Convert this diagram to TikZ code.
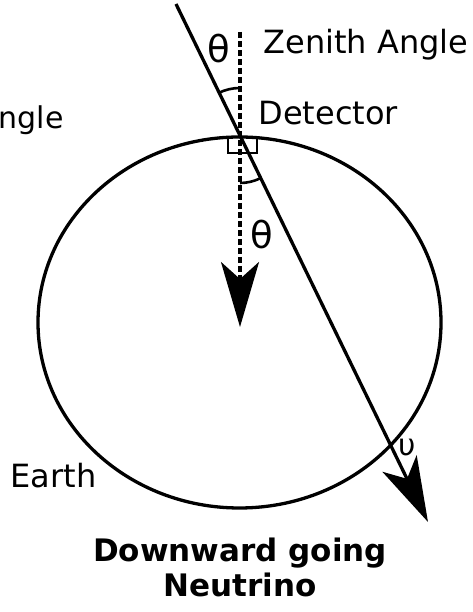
\documentclass[tikz,border=0pt]{standalone}
\usepackage{fontspec}
\setmainfont{DejaVu Sans}
\usetikzlibrary{arrows.meta,shapes.geometric}
\begin{document}
\begin{tikzpicture}[x=1pt,y=1pt,line width=3.3pt,
  lbl/.style={font=\fontsize{32}{38}\selectfont,inner sep=0pt},
  greek/.style={font=\fontsize{37}{40}\selectfont,inner sep=0pt},
  boldlbl/.style={font=\fontsize{31}{36}\selectfont\bfseries,inner sep=0pt},
  bigtip/.style={-{Stealth[length=65pt,width=38pt,inset=17pt]}},
  anglearc/.style={line width=2.6pt}]
\useasboundingbox (0,0) rectangle (472,612);
% Earth
\node[draw,ellipse,minimum width=403pt,minimum height=371pt,inner sep=0pt] (earthshape) at (239.5,289.5) {};
% detector
\coordinate (D) at (240,475);
\node[draw,line width=2.8pt,minimum width=29pt,minimum height=16pt,inner sep=0pt] (det) at (242.5,467) {};
% neutrino path
\coordinate (src) at (176,608);
\coordinate (tip) at (428,90);
\draw[bigtip] (src) -- (tip);
% zenith direction
\coordinate (ztop) at (240,580);
\coordinate (dtip) at (240,285);
\draw[dash pattern=on 6pt off 3pt,bigtip] (ztop) -- (dtip);
% angle arcs
\draw[anglearc] ([shift={(90:49pt)}]D) arc[start angle=90,end angle=115.7,radius=49pt];
\draw[anglearc] ([shift={(270:46pt)}]D) arc[start angle=270,end angle=295.9,radius=46pt];
% labels
\node[greek] (th1) at (219,563) {θ};
\node[greek] (th2) at (261.5,377) {θ};
\node[lbl,anchor=base west] (zen) at (262,558.7) {Zenith Angle};
\node[lbl,anchor=base west] (detl) at (257,487) {Detector};
\node[lbl,font=\fontsize{30}{34}\selectfont,anchor=base west] (ang) at (-3,483) {ngle};
\node[lbl,font=\fontsize{30}{34}\selectfont] (nu) at (407,164) {υ};
\node[lbl,anchor=base west] (earth) at (9,124) {Earth};
\node[boldlbl,anchor=base] (cap1) at (240,50) {Downward going};
\node[boldlbl,anchor=base] (cap2) at (240,15) {Neutrino};
\end{tikzpicture}
\end{document}
